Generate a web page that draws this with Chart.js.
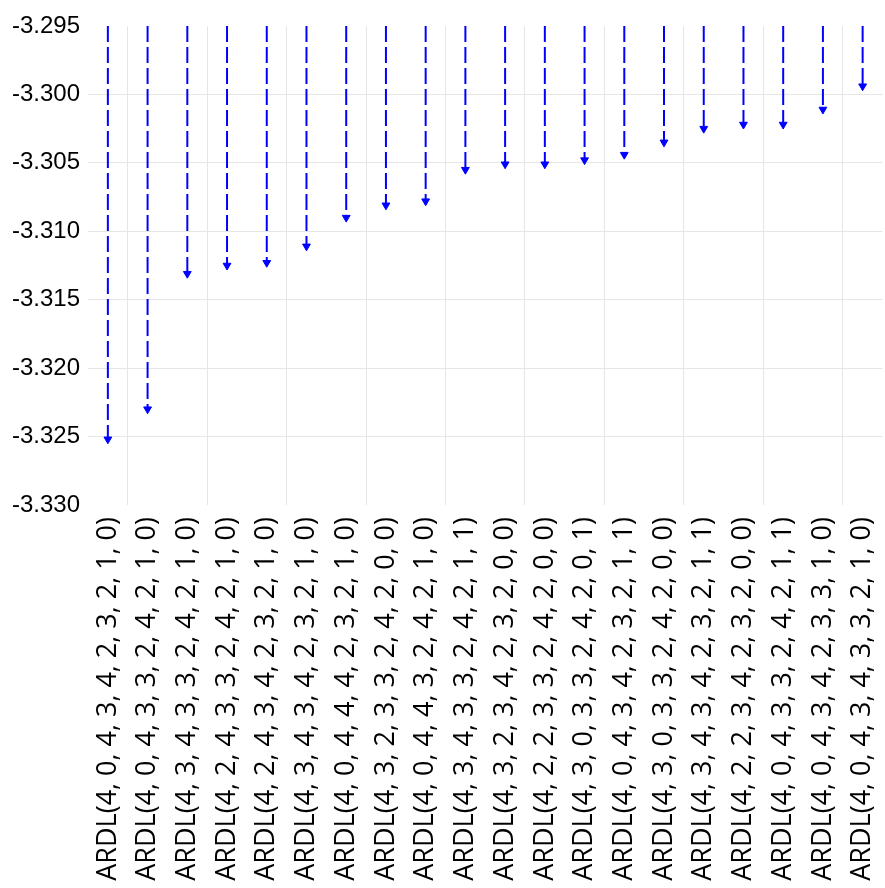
<!DOCTYPE html>
<html>
<head>
<meta charset="utf-8">
<script src="https://cdn.jsdelivr.net/npm/chart.js@4/dist/chart.umd.min.js"></script>
<style>
  html, body { margin: 0; padding: 0; background: #fff; overflow: hidden; }
  #wrap { width: 888px; height: 888px; }
</style>
</head>
<body>
<div id="wrap"><canvas id="chart_ardl"></canvas></div>
<script>
// model labels (x axis) and their criterion values
const models = [
  'ARDL(4, 0, 4, 3, 4, 2, 3, 2, 1, 0)',
  'ARDL(4, 0, 4, 3, 3, 2, 4, 2, 1, 0)',
  'ARDL(4, 3, 4, 3, 3, 2, 4, 2, 1, 0)',
  'ARDL(4, 2, 4, 3, 3, 2, 4, 2, 1, 0)',
  'ARDL(4, 2, 4, 3, 4, 2, 3, 2, 1, 0)',
  'ARDL(4, 3, 4, 3, 4, 2, 3, 2, 1, 0)',
  'ARDL(4, 0, 4, 4, 4, 2, 3, 2, 1, 0)',
  'ARDL(4, 3, 2, 3, 3, 2, 4, 2, 0, 0)',
  'ARDL(4, 0, 4, 4, 3, 2, 4, 2, 1, 0)',
  'ARDL(4, 3, 4, 3, 3, 2, 4, 2, 1, 1)',
  'ARDL(4, 3, 2, 3, 4, 2, 3, 2, 0, 0)',
  'ARDL(4, 2, 2, 3, 3, 2, 4, 2, 0, 0)',
  'ARDL(4, 3, 0, 3, 3, 2, 4, 2, 0, 1)',
  'ARDL(4, 0, 4, 3, 4, 2, 3, 2, 1, 1)',
  'ARDL(4, 3, 0, 3, 3, 2, 4, 2, 0, 0)',
  'ARDL(4, 3, 4, 3, 4, 2, 3, 2, 1, 1)',
  'ARDL(4, 2, 2, 3, 4, 2, 3, 2, 0, 0)',
  'ARDL(4, 0, 4, 3, 3, 2, 4, 2, 1, 1)',
  'ARDL(4, 0, 4, 3, 4, 2, 3, 3, 1, 0)',
  'ARDL(4, 0, 4, 3, 4, 3, 3, 2, 1, 0)'
];

const criterion = [
  -3.3252, -3.3230, -3.3131, -3.3125, -3.3123,
  -3.3111, -3.3090, -3.3081, -3.3078, -3.3055,
  -3.3051, -3.3051, -3.3048, -3.3044, -3.3035,
  -3.3025, -3.3022, -3.3022, -3.3011, -3.2994
];

// y axis range / ticks
const yTop = -3.295;
const yBottom = -3.330;
const yStep = 0.005;

const BLUE = '#0000ff';
const GRID = '#e6e6e6';

// one dashed "arrow" per model: from the top of the axis down to its value
let datasets = models.map((m, i) => {
  return {
    label: m,
    data: [{x: m, y: yTop}, {x: m, y: criterion[i]}],
    borderColor: BLUE,
    backgroundColor: BLUE,
    borderWidth: 2,
    borderDash: [16, 5],
    pointStyle: 'triangle',
    pointRotation: 180,
    pointRadius: ctx => ctx.dataIndex === 1 ? 4.5 : 0,
    pointBorderWidth: 1,
    pointBackgroundColor: BLUE,
    pointBorderColor: BLUE,
    tension: 0
  };
});

new Chart('chart_ardl', {
  type: 'line',
  data: {
    labels: models,
    datasets: datasets
  },
  options: {
    responsive: true,
    maintainAspectRatio: false,
    animation: false,
    layout: { padding: { top: 26, right: 0, left: 0, bottom: 0 } },
    plugins: {
      legend: { display: false },
      tooltip: { enabled: false }
    },
    scales: {
      x: {
        type: 'category',
        offset: true,
        border: { display: false },
        grid: {
          offset: true,
          drawTicks: false,
          lineWidth: 1,
          color: ctx => (ctx.index % 2 === 1) ? GRID : 'rgba(0,0,0,0)'
        },
        ticks: {
          autoSkip: false,
          minRotation: 90,
          maxRotation: 90,
          padding: 12,
          color: '#000',
          font: { family: '"Open Sans", sans-serif', size: 27 }
        },
        afterFit: scale => {
          scale.height = 383;
          scale.paddingLeft = 0;
          scale.paddingRight = 0;
        }
      },
      y: {
        min: yBottom,
        max: yTop,
        border: { display: false },
        grid: {
          drawTicks: false,
          color: ctx => (ctx.index === 0 || ctx.index === 7) ? 'rgba(0,0,0,0)' : GRID
        },
        ticks: {
          stepSize: yStep,
          padding: 8,
          color: '#000',
          font: { family: '"Liberation Sans", Arial, sans-serif', size: 24 },
          callback: v => v.toFixed(3)
        },
        afterFit: scale => { scale.width = 88; }
      }
    }
  }
});
</script>
</body>
</html>
